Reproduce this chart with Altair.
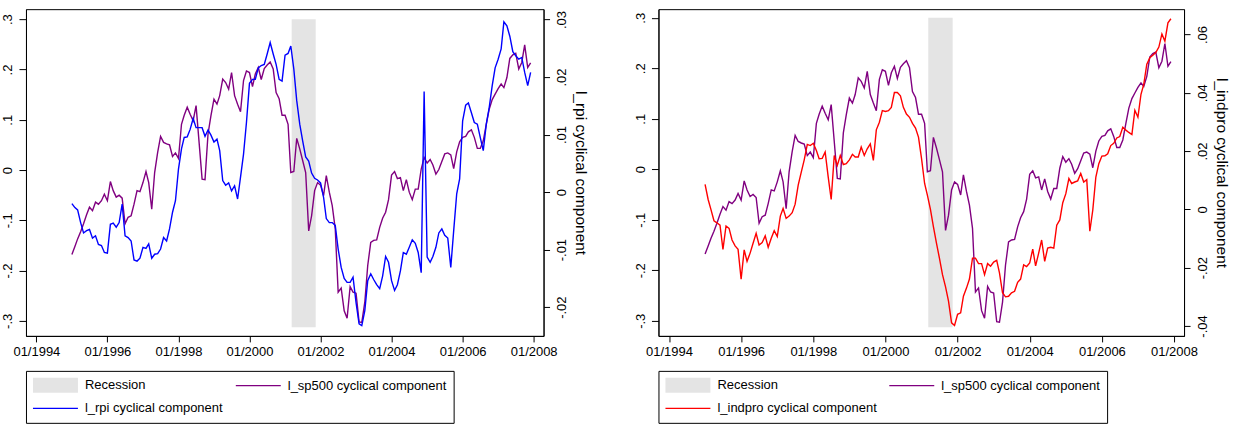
import altair as alt
import pandas as pd

# ---------------- data ----------------
months = pd.date_range("1995-01-01", periods=156, freq="MS")

sp500 = [
    -0.168, -0.152, -0.137, -0.123, -0.107, -0.089, -0.074, -0.081, -0.064, -0.068, -0.061, -0.048,
    -0.061, -0.023, -0.041, -0.054, -0.050, -0.056, -0.107, -0.094, -0.091, -0.068, -0.041, -0.043,
    -0.025, -0.003, -0.025, -0.078, -0.005, 0.035, 0.067, 0.055, 0.052, 0.050, 0.027, 0.034,
    0.023, 0.091, 0.109, 0.125, 0.111, 0.098, 0.128, 0.055, -0.018, -0.019, 0.072, 0.108,
    0.141, 0.131, 0.148, 0.181, 0.174, 0.161, 0.194, 0.148, 0.131, 0.116, 0.178, 0.197,
    0.194, 0.166, 0.191, 0.204, 0.180, 0.202, 0.209, 0.215, 0.201, 0.154, 0.142, 0.109,
    0.109, 0.091, -0.005, -0.003, 0.063, 0.042, 0.019, -0.005, -0.121, -0.091, -0.041, -0.025,
    -0.030, -0.051, -0.011, -0.044, -0.071, -0.117, -0.243, -0.235, -0.280, -0.295, -0.232, -0.243,
    -0.245, -0.302, -0.303, -0.263, -0.190, -0.144, -0.140, -0.139, -0.114, -0.096, -0.084, -0.059,
    -0.010, -0.003, -0.017, -0.015, -0.041, -0.019, -0.044, -0.059, -0.038, -0.038, 0.002, 0.025,
    0.014, 0.021, 0.010, -0.008, 0.001, 0.017, 0.032, 0.034, 0.030, 0.003, 0.036, 0.056,
    0.065, 0.067, 0.076, 0.080, 0.065, 0.043, 0.043, 0.058, 0.091, 0.121, 0.140, 0.151,
    0.162, 0.171, 0.164, 0.184, 0.222, 0.229, 0.232, 0.201, 0.214, 0.249, 0.204, 0.213,
]

rpi = [
    -0.0020, -0.0027, -0.0031, -0.0053, -0.0071, -0.0067, -0.0065, -0.0080, -0.0076, -0.0091, -0.0093, -0.0105,
    -0.0106, -0.0056, -0.0054, -0.0061, -0.0053, -0.0021, -0.0076, -0.0079, -0.0085, -0.0118, -0.0120, -0.0115,
    -0.0096, -0.0098, -0.0090, -0.0115, -0.0108, -0.0107, -0.0099, -0.0079, -0.0085, -0.0064, -0.0035, -0.0015,
    0.0040, 0.0075, 0.0095, 0.0096, 0.0109, 0.0128, 0.0112, 0.0112, 0.0112, 0.0097, 0.0108, 0.0099,
    0.0087, 0.0092, 0.0072, 0.0020, 0.0012, 0.0016, 0.0002, 0.0011, -0.0012, 0.0026, 0.0066, 0.0121,
    0.0189, 0.0196, 0.0196, 0.0216, 0.0220, 0.0222, 0.0240, 0.0260, 0.0240, 0.0222, 0.0196, 0.0193,
    0.0238, 0.0241, 0.0254, 0.0214, 0.0159, 0.0118, 0.0089, 0.0061, 0.0054, 0.0033, 0.0024, 0.0021,
    0.0016, -0.0009, -0.0046, -0.0053, -0.0053, -0.0058, -0.0099, -0.0131, -0.0150, -0.0157, -0.0157, -0.0148,
    -0.0192, -0.0229, -0.0232, -0.0206, -0.0154, -0.0142, -0.0152, -0.0161, -0.0168, -0.0146, -0.0112, -0.0122,
    -0.0154, -0.0171, -0.0161, -0.0137, -0.0105, -0.0108, -0.0096, -0.0083, -0.0089, -0.0105, -0.0140, 0.0175,
    -0.0113, -0.0122, -0.0112, -0.0096, -0.0071, -0.0064, -0.0075, -0.0080, -0.0131, -0.0067, -0.0003, 0.0023,
    0.0124, 0.0151, 0.0155, 0.0138, 0.0121, 0.0118, 0.0095, 0.0072, 0.0118, 0.0147, 0.0185, 0.0216,
    0.0231, 0.0249, 0.0296, 0.0289, 0.0271, 0.0244, 0.0237, 0.0231, 0.0234, 0.0208, 0.0185, 0.0208,
]

indpro = [
    0.0086, 0.0034, 0.0000, -0.0039, -0.0046, -0.0054, -0.0137, -0.0057, -0.0065, -0.0105, -0.0125, -0.0137,
    -0.0239, -0.0139, -0.0178, -0.0150, -0.0116, -0.0082, -0.0122, -0.0114, -0.0091, -0.0130, -0.0099, -0.0073,
    -0.0093, -0.0023, 0.0003, -0.0031, -0.0023, -0.0011, 0.0018, 0.0083, 0.0128, 0.0170, 0.0223, 0.0219,
    0.0227, 0.0202, 0.0174, 0.0175, 0.0197, 0.0111, 0.0034, 0.0185, 0.0151, 0.0185, 0.0154, 0.0157,
    0.0170, 0.0189, 0.0180, 0.0180, 0.0214, 0.0185, 0.0208, 0.0225, 0.0168, 0.0273, 0.0299, 0.0339,
    0.0336, 0.0339, 0.0350, 0.0401, 0.0401, 0.0390, 0.0350, 0.0327, 0.0316, 0.0295, 0.0279, 0.0248,
    0.0174, 0.0089, 0.0049, 0.0000, -0.0059, -0.0116, -0.0167, -0.0224, -0.0266, -0.0315, -0.0389, -0.0398,
    -0.0360, -0.0355, -0.0298, -0.0270, -0.0239, -0.0167, -0.0167, -0.0186, -0.0186, -0.0224, -0.0186, -0.0195,
    -0.0181, -0.0175, -0.0218, -0.0286, -0.0300, -0.0298, -0.0286, -0.0281, -0.0250, -0.0239, -0.0190, -0.0196,
    -0.0184, -0.0136, -0.0194, -0.0150, -0.0105, -0.0178, -0.0133, -0.0130, -0.0133, -0.0054, -0.0036, 0.0023,
    0.0054, 0.0106, 0.0089, 0.0094, 0.0098, 0.0123, 0.0094, 0.0102, -0.0075, -0.0002, 0.0111, 0.0157,
    0.0183, 0.0184, 0.0191, 0.0219, 0.0227, 0.0245, 0.0250, 0.0282, 0.0272, 0.0264, 0.0257, 0.0340,
    0.0316, 0.0395, 0.0429, 0.0498, 0.0520, 0.0529, 0.0538, 0.0557, 0.0602, 0.0577, 0.0640, 0.0654,
]

recession = {"start": "2001-03-10T00:00:00", "end": "2001-11-12T00:00:00", "low": -0.313, "high": 0.3}

x_tick_years = [1994, 1996, 1998, 2000, 2002, 2004, 2006, 2008]
left_ticks = [-0.3, -0.2, -0.1, 0.0, 0.1, 0.2, 0.3]
rpi_ticks = [-0.02, -0.01, 0.0, 0.01, 0.02, 0.03]
indpro_ticks = [-0.04, -0.02, 0.0, 0.02, 0.04, 0.06]

REC_NAME = "Recession"
SP_NAME = "l_sp500 cyclical component"
RPI_NAME = "l_rpi cyclical component"
IND_NAME = "l_indpro cyclical component"

# ---------------- style ----------------
FONT = "Liberation Sans"
REC_COLOR = "#e4e4e4"
PURPLE = "#800080"
# symbol paths: unit = half of sqrt(symbolSize) = 7.5 px  -> 45 px wide keys
SWATCH = "M-3,-1H3V1H-3Z"            # 45 x 15 filled box for the recession key
LINEKEY = "M-3,-0.09H3V0.09H-3Z"     # 45 x 1.4 bar that reads as a line key

x_scale = alt.Scale(domain=[alt.DateTime(year=1993, month=9, date=16),
                            alt.DateTime(year=2008, month=4, date=12)], nice=False)
x_axis = alt.Axis(values=[alt.DateTime(year=y, month=1, date=1) for y in x_tick_years],
                  format="%m/%Y", title=None, labelAngle=0, labelPadding=4, tickSize=6)


def stata_label(fmt):
    return ("datum.value == 0 ? '0' : (datum.value < 0 ? '-' : '') + "
            f"substring(format(abs(datum.value), '{fmt}'), 1)")


def make_legend():
    return alt.Legend(
        title=None, orient="none", legendX=0, legendY=362, columns=2, direction="horizontal",
        labelFont=FONT, labelFontSize=13, labelColor="black", labelLimit=600,
        symbolSize=225, symbolOffset=15, labelOffset=22,
        columnPadding=12, rowPadding=8, padding=7,
        strokeColor="black", fillColor="white", cornerRadius=0,
        symbolStrokeWidth=0, symbolOpacity=1,
    )


def panel(other_vals, other_name, other_color, right_ticks, right_domain, left_domain, width):
    names = [REC_NAME, SP_NAME, other_name]
    color_scale = alt.Scale(domain=names, range=[REC_COLOR, PURPLE, other_color])
    color_plain = alt.Color("series:N", scale=color_scale)
    left_scale = alt.Scale(domain=left_domain, nice=False, zero=False)
    left_axis = alt.Axis(values=left_ticks, labelExpr=stata_label(".1f"), title=None,
                         orient="left", labelAngle=-90, labelAlign="center",
                         labelBaseline="bottom", labelPadding=4, tickSize=7)

    # key: invisible points whose colour + shape channels build the legend
    key_df = pd.DataFrame({"series": names})
    key = alt.Chart(key_df).mark_point(filled=True, opacity=0).encode(
        color=alt.Color("series:N", scale=color_scale, legend=make_legend()),
        shape=alt.Shape("series:N", scale=alt.Scale(domain=names, range=[SWATCH, LINEKEY, LINEKEY]),
                        legend=make_legend()),
    )

    rec_df = pd.DataFrame([{**recession, "series": REC_NAME}])
    rect = alt.Chart(rec_df).mark_rect(opacity=1).encode(
        x=alt.X("start:T", scale=x_scale, axis=x_axis),
        x2="end:T",
        y=alt.Y("low:Q", scale=left_scale, axis=left_axis),
        y2="high:Q",
        color=color_plain,
    )

    sp_df = pd.DataFrame({"date": months, "value": sp500, "series": SP_NAME})
    sp_line = alt.Chart(sp_df).mark_line(strokeWidth=1.4).encode(
        x=alt.X("date:T", scale=x_scale, axis=x_axis),
        y=alt.Y("value:Q", scale=left_scale, axis=left_axis),
        color=color_plain,
    )

    o_df = pd.DataFrame({"date": months, "value": other_vals, "series": other_name})
    o_line = alt.Chart(o_df).mark_line(strokeWidth=1.4).encode(
        x=alt.X("date:T", scale=x_scale, axis=x_axis),
        y=alt.Y("value:Q", scale=alt.Scale(domain=right_domain, nice=False, zero=False),
                axis=alt.Axis(values=right_ticks, labelExpr=stata_label(".2f"),
                              title=other_name, orient="right", labelAngle=-90,
                              labelAlign="center", labelBaseline="top", labelPadding=6,
                              tickSize=6, titleFontSize=15.5, titleFontWeight="normal",
                              titlePadding=4)),
        color=color_plain,
    )

    return alt.layer(alt.layer(key, rect, sp_line), o_line).resolve_scale(y="independent").properties(
        width=width, height=327)


p1 = panel(rpi, RPI_NAME, "#0000ff", rpi_ticks, [-0.0250, 0.0318], [-0.330, 0.320], 518)
p2 = panel(indpro, IND_NAME, "#ff0000", indpro_ticks, [-0.0434, 0.0687], [-0.330, 0.317], 526)

chart = alt.hconcat(p1, p2, spacing=45).resolve_scale(color="independent", shape="independent").resolve_legend(
    color="independent", shape="independent").properties(
    padding={"left": 1, "top": 8, "right": 4, "bottom": 0},
    background="white",
).configure_view(stroke="black", strokeWidth=1).configure_axis(
    labelFont=FONT, labelFontSize=13, labelColor="black", titleFont=FONT, titleColor="black",
    domainColor="black", tickColor="black", grid=False, domainWidth=1, tickWidth=1,
)

chart.save("out.html", embed_options={"renderer": "svg", "actions": False})
